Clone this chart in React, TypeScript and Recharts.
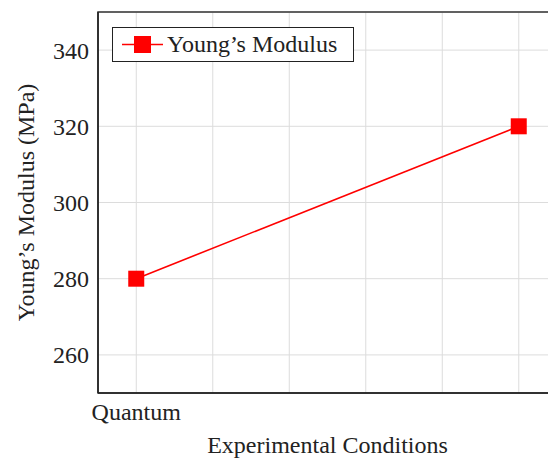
import React from "react";
import {
  LineChart,
  Line,
  XAxis,
  YAxis,
  CartesianGrid,
  Legend,
  ReferenceArea,
  Label,
} from "recharts";

const categories = ["Quantum", ""];
const xPositions = [0, 5];
const modulus = [280, 320];
const xTicks = [0, 1, 2, 3, 4, 5];
const xTickLabels = ["Quantum", "", "", "", "", ""];
const yTicks = [260, 280, 300, 320, 340];
const seriesName = "Young\u2019s Modulus";

const data = categories.map((c, i) => ({ name: c, x: xPositions[i], y: modulus[i] }));

const FONT = "'Liberation Serif', 'Times New Roman', serif";
const RED = "#ff0000";

const SquareDot = (props: any) => {
  const { cx, cy } = props;
  if (cx == null || cy == null) return null;
  const s = 16;
  return <rect x={cx - s / 2} y={cy - s / 2} width={s} height={s} fill={RED} stroke="none" />;
};

const LegendBox = () => (
  <div
    style={{
      width: 240,
      height: 33,
      border: "1.5px solid #222",
      background: "#fff",
      display: "flex",
      alignItems: "center",
      fontFamily: FONT,
      fontSize: 24,
      color: "#222",
      boxSizing: "content-box",
    }}
  >
    <svg width={52} height={33} style={{ display: "block" }}>
      <line x1={9} y1={16.5} x2={50} y2={16.5} stroke={RED} strokeWidth={1.5} />
      <rect x={21} y={8} width={17} height={17} fill={RED} />
    </svg>
    <span style={{ marginLeft: 2, lineHeight: "33px" }}>{seriesName}</span>
  </div>
);

const YLabel = (props: any) => {
  const vb = props.viewBox || {};
  const cx = (vb.x ?? 0) + 18;
  const cy = (vb.y ?? 0) + (vb.height ?? 0) / 2;
  return (
    <text
      x={cx}
      y={cy}
      transform={`rotate(-90, ${cx}, ${cy})`}
      textAnchor="middle"
      dominantBaseline="central"
      fontFamily={FONT}
      fontSize={24}
      fill="#222"
    >
      Young{"\u2019"}s Modulus (MPa)
    </text>
  );
};

export default function App() {
  return (
    <div style={{ width: 548, height: 451 }}>
      <LineChart
        width={548}
        height={451}
        data={data}
        margin={{ top: 4, right: -1, bottom: 0, left: 0 }}
      >
        <CartesianGrid stroke="#dcdcdc" strokeWidth={1} />
        <XAxis
          dataKey="x"
          type="number"
          domain={[-0.5, 5.5]}
          ticks={xTicks}
          tickFormatter={(v: number) => xTickLabels[xTicks.indexOf(v)] ?? ""}
          height={66}
          tickSize={0}
          tickMargin={10}
          axisLine={{ stroke: "#222", strokeWidth: 1.5 }}
          tickLine={false}
          tick={{ fontFamily: FONT, fontSize: 24, fill: "#222" }}
          allowDataOverflow
        >
          <Label
            value="Experimental Conditions"
            position="insideBottom"
            offset={6}
            style={{ fontFamily: FONT, fontSize: 24, fill: "#222" }}
          />
        </XAxis>
        <YAxis
          type="number"
          domain={[250, 350]}
          ticks={yTicks}
          width={90}
          tickSize={0}
          tickMargin={9}
          axisLine={{ stroke: "#222", strokeWidth: 1.5 }}
          tickLine={false}
          tick={{ fontFamily: FONT, fontSize: 24, fill: "#222" }}
          allowDataOverflow
        >
          <Label content={<YLabel />} />
        </YAxis>
        <ReferenceArea
          x1={-0.5}
          x2={5.5}
          y1={250}
          y2={350}
          fill="none"
          fillOpacity={0}
          stroke="#333"
          strokeWidth={1.5}
          ifOverflow="visible"
        />
        <Legend
          layout="horizontal"
          verticalAlign="middle"
          align="center"
          content={<LegendBox />}
          wrapperStyle={{ left: 104, top: 19, width: "auto" }}
        />
        <Line
          type="linear"
          dataKey="y"
          name={seriesName}
          stroke={RED}
          strokeWidth={1.6}
          dot={<SquareDot />}
          activeDot={false}
          isAnimationActive={false}
        />
      </LineChart>
    </div>
  );
}
